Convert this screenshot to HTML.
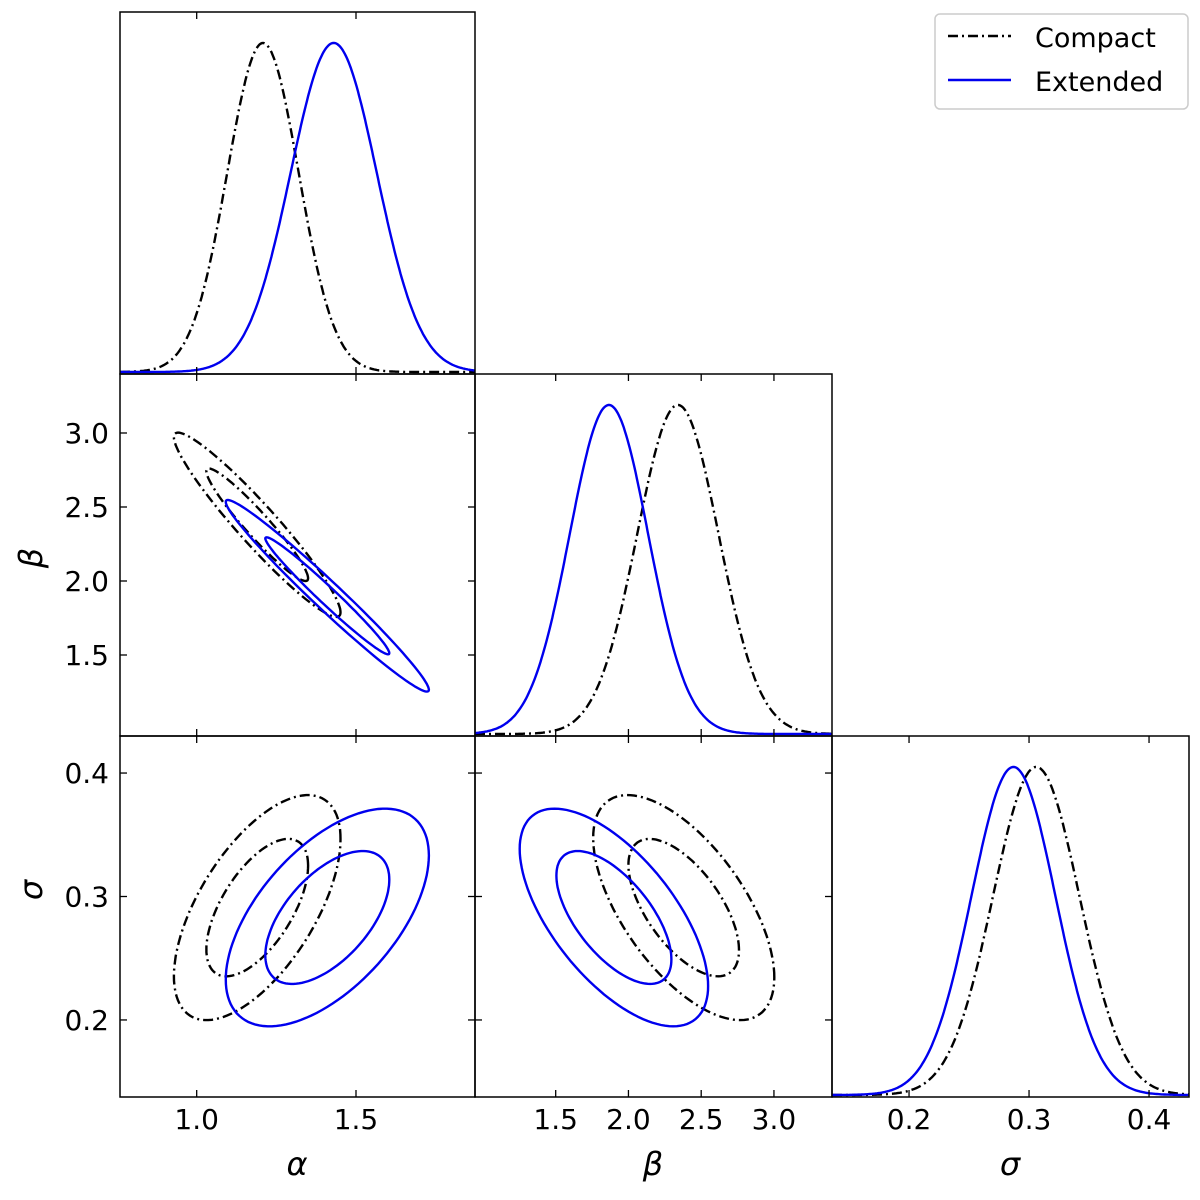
<!DOCTYPE html>
<html><head><meta charset="utf-8"><style>
html,body{margin:0;padding:0;background:#fff;}
svg{display:block;font-family:"DejaVu Sans","Liberation Sans",sans-serif;}
</style></head><body>
<svg id="chart" width="1200" height="1200" viewBox="0 0 1200 1200"></svg>
<script>
// ---- data ----
const params = ["alpha","beta","sigma"];
const seriesNames = ["Compact","Extended"];
// 2D contour Gaussian params [alpha, beta, sigma]
const compactMean = [1.19, 2.38, 0.291];
const compactSd = [0.105, 0.25, 0.0366];
const compactCorr = [-0.95, 0.61, -0.62]; // ab, as, bs
const extendedMean = [1.41, 1.90, 0.283];
const extendedSd = [0.128, 0.26, 0.0354];
const extendedCorr = [-0.98, 0.57, -0.63];
// 1D marginal params
const compactMargMean = [1.208, 2.34, 0.306];
const compactMargSd = [0.112, 0.28, 0.036];
const extendedMargMean = [1.43, 1.866, 0.287];
const extendedMargSd = [0.135, 0.27, 0.035];
const contourLevels = [1.52, 2.49];
// ticks
const alphaTicks = [1.0, 1.5];
const alphaTickLabels = ["1.0","1.5"];
const betaTicks = [1.5, 2.0, 2.5, 3.0];
const betaTickLabels = ["1.5","2.0","2.5","3.0"];
const sigmaTicks = [0.2, 0.3, 0.4];
const sigmaTickLabels = ["0.2","0.3","0.4"];
const axisLabels = ["α","β","σ"];

// ---- layout ----
const colX = [[120,475],[475,832],[832,1189]];
const rowY = [[12,374],[374,736],[736,1097]];
const xDom = [[0.7593,1.8735],[0.9454,3.399],[0.1358,0.4333]];
const yDom = {1:[0.9527,3.3986],2:[0.1376,0.43]};
const NS="http://www.w3.org/2000/svg";
const svg=document.getElementById('chart');
function mk(t,a,p){const e=document.createElementNS(NS,t);for(const k in a)e.setAttribute(k,a[k]);(p||svg).appendChild(e);return e;}
function xs(i,col,v){const[a,b]=xDom[col];return colX[col][0]+(v-a)/(b-a)*(colX[col][1]-colX[col][0]);}
function ys(row,v){const[a,b]=yDom[row];return rowY[row][1]-(v-a)/(b-a)*(rowY[row][1]-rowY[row][0]);}
const tickSets=[alphaTicks,betaTicks,sigmaTicks];
const tickLabs=[alphaTickLabels,betaTickLabels,sigmaTickLabels];
const styles=[{stroke:"#000","stroke-dasharray":"10,4,2,4"},{stroke:"#0000ee"}];
const means=[compactMean,extendedMean],sds=[compactSd,extendedSd],corrs=[compactCorr,extendedCorr];
const mM=[compactMargMean,extendedMargMean],mS=[compactMargSd,extendedMargSd];
function corrIdx(i,j){if(i+j===1)return 0;if(i+j===2)return 1;return 2;}

for(let row=0;row<3;row++){for(let col=0;col<=row;col++){
  const g=mk('g',{});
  
  
  const x0=colX[col][0],x1=colX[col][1],y0=rowY[row][0],y1=rowY[row][1];
  const clipId='c'+row+col;
  const cp=mk('clipPath',{id:clipId},g);mk('rect',{x:x0,y:y0,width:x1-x0,height:y1-y0},cp);
  const dg=mk('g',{'clip-path':'url(#'+clipId+')'},g);
  if(row===col){
    for(let s=0;s<2;s++){
      let d='';const m=mM[s][col],sd=mS[s][col];
      for(let k=0;k<=300;k++){const v=xDom[col][0]+(xDom[col][1]-xDom[col][0])*k/300;
        const h=Math.exp(-0.5*((v-m)/sd)**2);const px=xs(0,col,v);const py=y1-2-h*(y1-y0-33);
        d+=(k?'L':'M')+px.toFixed(1)+','+py.toFixed(1);}
      const p=mk('path',Object.assign({d:d,fill:'none','stroke-width':2.4},styles[s]),dg);
      
      
    }
  } else {
    for(let s=0;s<2;s++){
      const mx=means[s][col],my=means[s][row],sx=sds[s][col],sy=sds[s][row],r=corrs[s][corrIdx(col,row)];
      for(const lv of contourLevels){
        let d='';
        for(let k=0;k<=120;k++){const t=2*Math.PI*k/120;const u=Math.cos(t),w=Math.sin(t);
          const vx=mx+lv*sx*u;const vy=my+lv*sy*(r*u+Math.sqrt(1-r*r)*w);
          d+=(k?'L':'M')+xs(0,col,vx).toFixed(1)+','+ys(row,vy).toFixed(1);}
        const p=mk('path',Object.assign({d:d+'Z',fill:'none','stroke-width':2.4},styles[s]),dg);
        
        
      }
    }
  }
  mk('rect',{x:x0,y:y0,width:x1-x0,height:y1-y0,fill:'none',stroke:'#000','stroke-width':1.5},g);
  tickSets[col].forEach((v,i)=>{const px=xs(0,col,v);
    mk('line',{x1:px,x2:px,y1:y1,y2:y1-7,stroke:'#000','stroke-width':1.3},g);
    mk('line',{x1:px,x2:px,y1:y0,y2:y0+7,stroke:'#000','stroke-width':1.3},g);
    if(row===2){const t=mk('text',{x:px,y:1129,'text-anchor':'middle','font-size':28},g);t.textContent=tickLabs[col][i];
      }
  });
  if(row>0 && row!==col){
    tickSets[row].forEach((v,i)=>{const py=ys(row,v);
      mk('line',{x1:x0,x2:x0+7,y1:py,y2:py,stroke:'#000','stroke-width':1.3},g);
      mk('line',{x1:x1,x2:x1-7,y1:py,y2:py,stroke:'#000','stroke-width':1.3},g);
      if(col===0){const t=mk('text',{x:109,y:py+10,'text-anchor':'end','font-size':28},g);t.textContent=tickLabs[row][i];
        }
    });
  }
}}
[[297,1175],[653,1175],[1010,1175]].forEach((p,i)=>{const t=mk('text',{x:p[0],y:p[1],'text-anchor':'middle','font-size':32,'font-style':'italic'});t.textContent=axisLabels[i];
  });
[[1,558],[2,890]].forEach(([r,y])=>{const t=mk('text',{x:0,y:0,'text-anchor':'middle','font-size':32,'font-style':'italic',transform:'translate(42,'+y+') rotate(-90)'});t.textContent=axisLabels[r];
  });
const lg=mk('g',{});


mk('rect',{x:935,y:14,width:253,height:95,rx:5,fill:'#fff',stroke:'#ccc','stroke-width':1.5},lg);
seriesNames.forEach((n,i)=>{const y=36+i*44;
  const e=mk('g',{},lg);
  
  
  mk('line',Object.assign({x1:948,x2:1011,y1:y,y2:y,'stroke-width':2.4},styles[i]),e);
  const t=mk('text',{x:1035,y:y+11,'font-size':27},e);t.textContent=n;});
</script>
</body></html>
